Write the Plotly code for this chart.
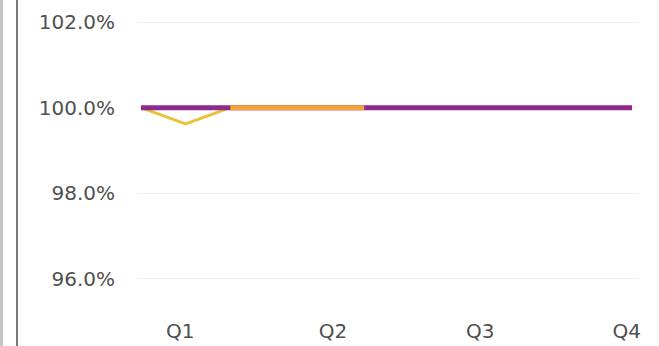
import plotly.graph_objects as go

# Monthly index (0 = first month of the year) and attainment ratios
months = list(range(12))
target_vals = [1.0] * 12                      # purple: target line
early_idx = [0, 1, 2]
early_vals = [1.0, 0.9962, 1.0]               # yellow: early-year dip
mid_idx = [2, 3, 4, 5]
mid_vals = [1.0, 1.0, 1.0, 1.0]               # orange: first-half actuals

quarters = ["Q1", "Q2", "Q3", "Q4"]
quarter_pos = [0.88, 4.3, 7.6, 10.88]

fig = go.Figure()
fig.add_trace(go.Scatter(x=early_idx, y=early_vals, mode="lines",
                         line=dict(color="#E9C23B", width=3), hoverinfo="skip"))
fig.add_trace(go.Scatter(x=months, y=target_vals, mode="lines",
                         line=dict(color="#8E2A8E", width=5), hoverinfo="skip"))
fig.add_trace(go.Scatter(x=mid_idx, y=mid_vals, mode="lines",
                         line=dict(color="#F4A33A", width=5), hoverinfo="skip"))

font = dict(family="DejaVu Sans, sans-serif", size=20, color="#505050")

fig.update_layout(
    width=659, height=346,
    margin=dict(l=138, r=21, t=0, b=29),
    paper_bgcolor="white", plot_bgcolor="white",
    showlegend=False,
    font=font,
    xaxis=dict(range=[-0.067, 11.134], tickmode="array",
               tickvals=quarter_pos, ticktext=quarters,
               showgrid=False, zeroline=False, showline=False, ticks=""),
    yaxis=dict(range=[0.9511, 1.02515], tickformat=".1%", dtick=0.02, tick0=0.96,
               showgrid=True, gridcolor="#EFEFEF", gridwidth=1,
               zeroline=False, showline=False, ticks="",
               ticklabelstandoff=22),
    shapes=[
        dict(type="line", xref="paper", yref="paper",
             x0=-0.273, x1=-0.273, y0=-0.1, y1=1.1,
             line=dict(color="#C4C4C4", width=3)),
        dict(type="line", xref="paper", yref="paper",
             x0=-0.242, x1=-0.242, y0=-0.1, y1=1.1,
             line=dict(color="#7A7A7A", width=2)),
    ],
)

fig.write_html("out.html")
